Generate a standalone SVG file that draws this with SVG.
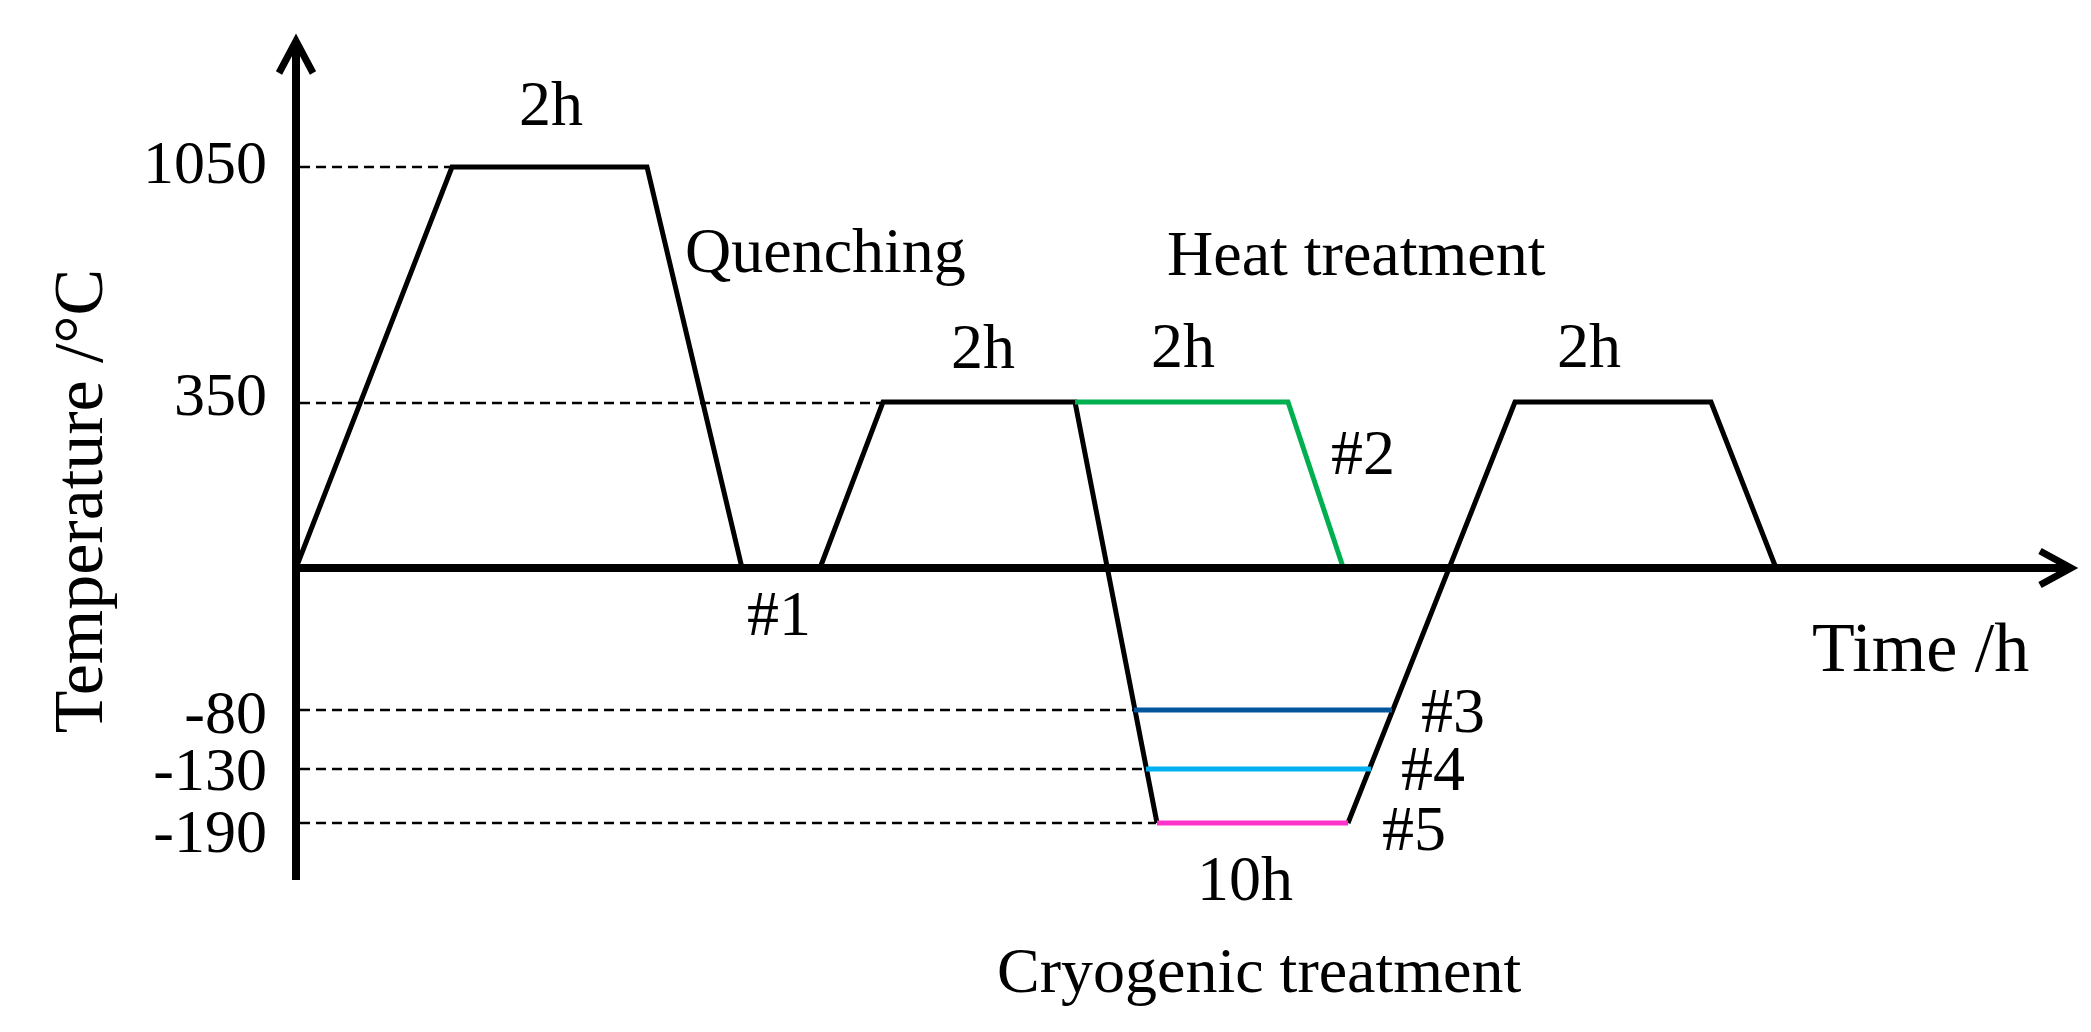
<svg xmlns="http://www.w3.org/2000/svg" width="2091" height="1032" viewBox="0 0 2091 1032">
<style>
  text { font-family: "Liberation Serif", "Times New Roman", serif; fill: #000; }
  .lbl { font-size: 64px; }
  .tick { font-size: 62px; text-anchor: end; }
  .axlbl { font-size: 70px; }
  .axis { stroke: #000; stroke-width: 8; fill: none; }
  .head { stroke: #000; stroke-width: 7; fill: none; stroke-linejoin: miter; }
  .dash { stroke: #000; stroke-width: 2.5; stroke-dasharray: 10 6; fill: none; }
  .trace { stroke: #000; stroke-width: 5; fill: none; stroke-linejoin: miter; }
  .green { stroke: #00B050; stroke-width: 5; fill: none; }
  .blue { stroke: #03559C; stroke-width: 5; fill: none; }
  .cyan { stroke: #00B0F0; stroke-width: 5; fill: none; }
  .magenta { stroke: #FF33CC; stroke-width: 5; fill: none; }
</style>
<rect width="2091" height="1032" fill="#fff"/>
<g id="guides">
  <line class="dash" x1="300" y1="167" x2="452" y2="167"/>
  <line class="dash" x1="300" y1="403" x2="883" y2="403"/>
  <line class="dash" x1="300" y1="710" x2="1133" y2="710"/>
  <line class="dash" x1="300" y1="769" x2="1145" y2="769"/>
  <line class="dash" x1="300" y1="823" x2="1156" y2="823"/>
</g>
<g id="connectors">
  <polyline class="trace" points="296,568 452,167 647,167 742,568"/>
  <polyline class="trace" points="820,568 883,402 1075,402 1157,823"/>
  <polyline class="trace" points="1348,823 1515,402 1711,402 1776,568"/>
  <polyline class="green" points="1075,402 1288,402 1343,567"/>
  <line class="blue" x1="1134" y1="710" x2="1392" y2="710"/>
  <line class="cyan" x1="1146" y1="769" x2="1371" y2="769"/>
  <line class="magenta" x1="1157" y1="823" x2="1348" y2="823"/>
</g>
<g id="axes">
  <line class="axis" x1="296" y1="42" x2="296" y2="880"/>
  <polyline class="head" points="279,73 296,41 313,73"/>
  <line class="axis" x1="292" y1="568" x2="2068" y2="568"/>
  <polyline class="head" points="2040,551 2071,568 2040,585"/>
</g>
<g id="ticks">
  <text class="tick" x="267" y="183">1050</text>
  <text class="tick" x="267" y="415">350</text>
  <text class="tick" x="267" y="733">-80</text>
  <text class="tick" x="267" y="790">-130</text>
  <text class="tick" x="267" y="852">-190</text>
</g>
<g id="labels">
  <text class="axlbl" transform="translate(102,501) rotate(-90)" text-anchor="middle">Temperature /°C</text>
  <text class="axlbl" x="1812" y="671">Time /h</text>
  <text class="lbl" x="519" y="125">2h</text>
  <text class="lbl" x="951" y="368">2h</text>
  <text class="lbl" x="1151" y="367">2h</text>
  <text class="lbl" x="1557" y="367">2h</text>
  <text class="lbl" x="685" y="272">Quenching</text>
  <text class="lbl" x="1167" y="275">Heat treatment</text>
  <text class="lbl" x="747" y="635">#1</text>
  <text class="lbl" x="1331" y="474">#2</text>
  <text class="lbl" x="1421" y="732">#3</text>
  <text class="lbl" x="1401" y="790">#4</text>
  <text class="lbl" x="1382" y="850">#5</text>
  <text class="lbl" x="1197" y="900">10h</text>
  <text class="lbl" x="997" y="992">Cryogenic treatment</text>
</g>
</svg>
